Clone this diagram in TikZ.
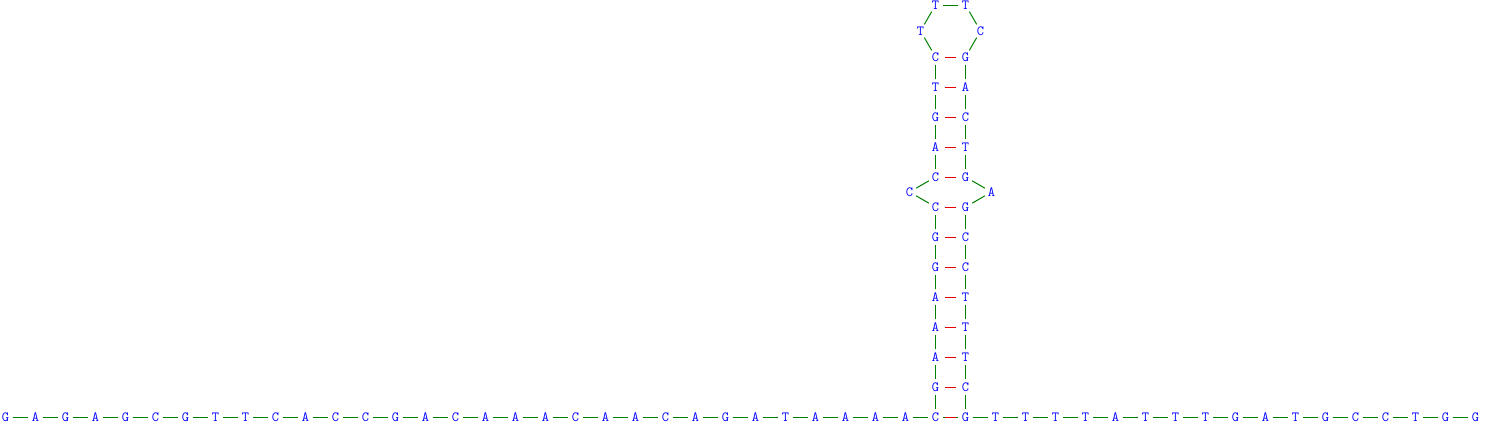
\documentclass[tikz,border=0pt]{standalone}
\usepackage{fontspec}
\definecolor{bbc}{RGB}{0,128,0}
\definecolor{bpc}{RGB}{230,0,0}
\definecolor{ntc}{RGB}{0,0,255}
\begin{document}
\begin{tikzpicture}[x=1pt,y=-1pt,
  nuc/.style={circle,inner sep=0pt,minimum size=15pt,text=ntc,
    font=\ttfamily\fontsize{14}{14}\selectfont},
  bbline/.style={draw=bbc,line width=1pt},
  pairline/.style={draw=bpc,line width=1pt,shorten >=2pt,shorten <=2pt}]
\useasboundingbox (0,0) rectangle (1490,431);
% bottom strand
\foreach \b [count=\i from 0] in {G,A,G,A,G,C,G,T,T,C,A,C,C,G,A,C,A,A,A,C,A,A,C,A,G,A,T,A,A,A,A,C,G,T,T,T,T,A,T,T,T,G,A,T,G,C,C,T,G,G}
  \node[nuc] (b\i) at ({5.5+30*\i},417) {\b};
\foreach \i in {0,...,48} {
  \pgfmathtruncatemacro{\j}{\i+1}
  \draw[bbline] (b\i) -- (b\j);
}
% stem
\foreach \b [count=\k from 1] in {G,A,A,A,G,G,C,C,A,G,T,C}
  \node[nuc] (L\k) at (935.5,{417-30*\k}) {\b};
\foreach \b [count=\k from 1] in {C,T,T,T,C,C,G,G,T,C,A,G}
  \node[nuc] (R\k) at (965.5,{417-30*\k}) {\b};
% loop and bulges
\node[nuc] (h1) at (920.5,31) {T};
\node[nuc] (h2) at (935.5,5) {T};
\node[nuc] (h3) at (965.5,5) {T};
\node[nuc] (h4) at (980.5,31) {C};
\node[nuc] (bc) at (909.5,192) {C};
\node[nuc] (ba) at (991.5,192) {A};
% base pairs
\draw[pairline] (b31) -- (b32);
\foreach \k in {1,...,12}
  \draw[pairline] (L\k) -- (R\k);
% backbone in stem
\draw[bbline] (b31) -- (L1);
\draw[bbline] (b32) -- (R1);
\foreach \k in {1,...,6,8,9,10,11} {
  \pgfmathtruncatemacro{\m}{\k+1}
  \draw[bbline] (L\k) -- (L\m);
  \draw[bbline] (R\k) -- (R\m);
}
\draw[bbline] (L7) -- (bc);
\draw[bbline] (bc) -- (L8);
\draw[bbline] (R7) -- (ba);
\draw[bbline] (ba) -- (R8);
\draw[bbline] (L12) -- (h1);
\draw[bbline] (h1) -- (h2);
\draw[bbline] (h2) -- (h3);
\draw[bbline] (h3) -- (h4);
\draw[bbline] (h4) -- (R12);
\end{tikzpicture}
\end{document}
